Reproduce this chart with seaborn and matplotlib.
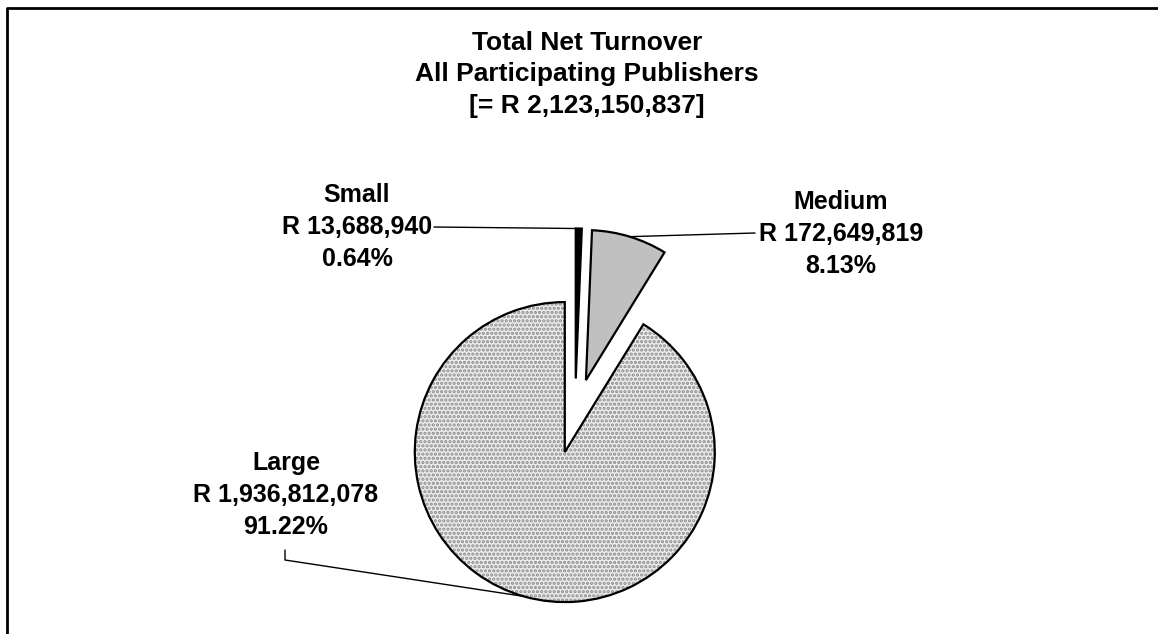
import numpy as np
import matplotlib
matplotlib.use("Agg")
import matplotlib.pyplot as plt
import seaborn as sns

# data
categories = ['Small', 'Medium', 'Large']
turnover = [13688940, 172649819, 1936812078]
pct_labels = ['0.64%', '8.13%', '91.22%']
total_label = '[= R 2,123,150,837]'
title_lines = ['Total Net Turnover', 'All Participating Publishers', total_label]

sns.set_style("white")
plt.rcParams['font.family'] = ['Liberation Sans', 'DejaVu Sans']
plt.rcParams['font.weight'] = 'bold'
plt.rcParams['text.color'] = 'black'
plt.rcParams['hatch.linewidth'] = 1.6

W, H = 1158, 634
fig = plt.figure(figsize=(W / 100, H / 100), dpi=100)
ax = fig.add_axes([0, 0, 1, 1])

cx, cy, rad = 575, H - 416, 150
# pie explode is in data units here (radius is in pixels)
explode = [0.25 * rad] * 3

# fill layer (hatch colour follows edgecolor, so no outline here)
fills, _ = ax.pie(turnover, explode=explode, startangle=90, counterclock=False,
                  colors=['black', '#c0c0c0', '#ececec'], center=(cx, cy), radius=rad,
                  wedgeprops=dict(edgecolor='#8c8c8c', linewidth=0))
fills[2].set_hatch('....')

# outline layer
wedges, _ = ax.pie(turnover, explode=explode, startangle=90, counterclock=False,
                   colors=['none'] * 3, center=(cx, cy), radius=rad,
                   wedgeprops=dict(edgecolor='black', linewidth=1.6))

ax.set_xlim(0, W)
ax.set_ylim(0, H)
ax.set_aspect('equal')
ax.axis('off')


def arc_point(w):
    mid = np.deg2rad((w.theta1 + w.theta2) / 2)
    return w.center[0] + w.r * np.cos(mid), w.center[1] + w.r * np.sin(mid)


# labels
label_pos = {'Small': (357, 227), 'Medium': (841, 234), 'Large': (286, 495)}
for i, name in enumerate(categories):
    txt = f"{name}\nR {turnover[i]:,}\n{pct_labels[i]}"
    x, y = label_pos[name]
    ax.text(x, H - y, txt, ha='center', va='center', fontsize=18,
            fontweight='bold', linespacing=1.42, color='black')

# leader lines
px, py = arc_point(wedges[0])
ax.plot([434, px], [H - 227, py], color='black', lw=1)
px, py = arc_point(wedges[1])
ax.plot([755, px], [H - 233, py], color='black', lw=1)
px, py = arc_point(wedges[2])
ax.plot([285, 285, px], [H - 550, H - 560, py], color='black', lw=1)

# title
for k, line in enumerate(title_lines):
    ax.text(587, H - (43 + k * 31.5), line, ha='center', va='center',
            fontsize=19, fontweight='bold', color='black')

# frame (left and top only)
ax.plot([7, 7, W], [0, H - 8, H - 8], color='black', lw=2, clip_on=False)

fig.savefig('out.png', dpi=100)
